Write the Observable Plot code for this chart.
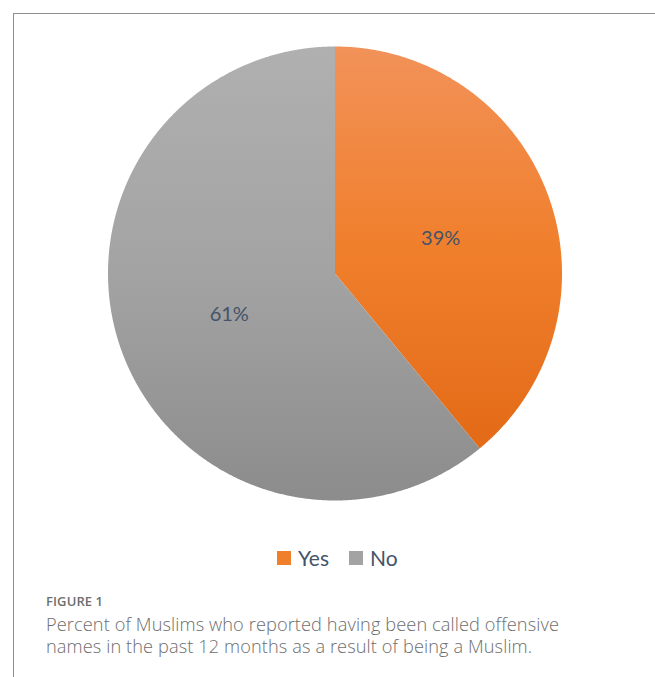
<!DOCTYPE html>
<html><head><meta charset="utf-8">
<script src="https://cdn.jsdelivr.net/npm/d3@7"></script>
<script src="https://cdn.jsdelivr.net/npm/@observablehq/plot@0.6"></script>
<style>
body{margin:0;background:#fff;}
#wrap{position:relative;width:655px;height:677px;overflow:hidden;font-family:Lato,"Open Sans",sans-serif;}
#frame{position:absolute;left:13px;top:13px;width:700px;height:700px;border-top:1.5px solid #8e8e8e;border-left:1.5px solid #8e8e8e;}
#chart{position:absolute;left:0;top:0;}
#legend{position:absolute;top:545px;left:277px;display:flex;align-items:center;font-family:Lato,"Open Sans",sans-serif;font-size:21px;color:#44546A;}
#legend .sw{width:14px;height:14px;display:inline-block;margin-right:7px;}
#legend .it{display:flex;align-items:center;margin-right:20px;}
#cap{position:absolute;left:46px;top:592px;color:#6e6e6e;font-family:"Open Sans",Lato,sans-serif;}
#cap .fig{font-size:13px;font-weight:600;letter-spacing:0.1px;margin-bottom:3px;}
#cap .txt{font-size:18.2px;line-height:22px;font-weight:300;white-space:nowrap;letter-spacing:0.1px;}
#cap .txt div{height:22px;overflow:visible;}
</style></head>
<body>
<div id="wrap">
<div id="frame"></div>
<div id="chart"></div>
<div id="legend"></div>
<div id="cap"><div class="fig">FIGURE 1</div><div class="txt"><div>Percent of Muslims who reported having been called offensive</div><div>names in the past 12 months as a result of being a Muslim.</div></div></div>
</div>
<script>
const categories = ["Yes", "No"];
const values = [39, 61];
const labels = ["39%", "61%"];
const colors = ["#F07F2C", "#A3A3A3"];

const total = d3.sum(values);
let cum = 0;
const slices = categories.map((c, i) => {
  const a0 = cum / total * 2 * Math.PI;
  cum += values[i];
  const a1 = cum / total * 2 * Math.PI;
  return {cat: c, a0, a1, label: labels[i]};
});
const pts = [];
for (const s of slices) {
  pts.push({cat: s.cat, x: 0, y: 0});
  const n = Math.ceil((s.a1 - s.a0) / (Math.PI / 720));
  for (let k = 0; k <= n; k++) {
    const a = s.a0 + (s.a1 - s.a0) * k / n;
    pts.push({cat: s.cat, x: Math.sin(a), y: Math.cos(a)});
  }
}
const labelPts = slices.map(s => {
  const a = (s.a0 + s.a1) / 2;
  return {label: s.label, x: 0.495 * Math.sin(a), y: 0.495 * Math.cos(a)};
});

const svg = Plot.plot({
  width: 655, height: 580,
  marginLeft: 107.5, marginRight: 93.5, marginTop: 46, marginBottom: 80,
  x: {domain: [-1, 1], axis: null},
  y: {domain: [-1, 1], axis: null},
  color: {domain: categories, range: ["url(#gYes)", "url(#gNo)"]},
  style: {background: "transparent"},
  marks: [
    Plot.line(pts, {x: "x", y: "y", z: "cat", fill: "cat", stroke: "none", curve: "linear-closed"}),
    Plot.text(labelPts, {x: "x", y: "y", dy: 3, text: "label", fill: "#44546A", fontSize: 20, fontFamily: "Lato, 'Open Sans', sans-serif"})
  ]
});
const defs = d3.select(svg).insert("defs", ":first-child");
const grads = {
  gYes: ["#F29259", "#F07F2C", "#E36A17"],
  gNo: ["#B0B0B0", "#A3A3A3", "#8C8C8C"]
};
for (const [id, st] of Object.entries(grads)) {
  const g = defs.append("linearGradient").attr("id", id).attr("x1", 0).attr("y1", 0).attr("x2", 0).attr("y2", 1);
  st.forEach((c, i) => g.append("stop").attr("offset", i / (st.length - 1)).attr("stop-color", c));
}
document.getElementById("chart").appendChild(svg);

const leg = document.getElementById("legend");
categories.forEach((c, i) => {
  const it = document.createElement("span"); it.className = "it";
  const sw = document.createElement("span"); sw.className = "sw"; sw.style.background = colors[i];
  it.appendChild(sw); it.appendChild(document.createTextNode(c));
  leg.appendChild(it);
});
</script>
</body></html>
